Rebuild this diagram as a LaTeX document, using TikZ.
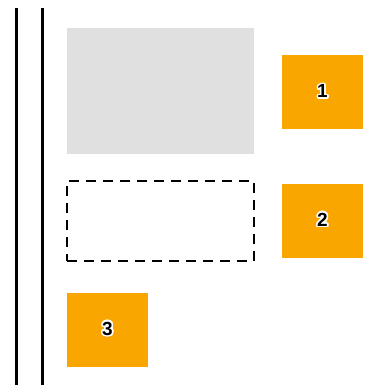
\documentclass[tikz,border=0pt]{standalone}
\usepackage{fontspec}
\setmainfont{Liberation Sans}
\usepackage{contour}
\contourlength{1.5pt}
\contournumber{24}
\usetikzlibrary{positioning}
\definecolor{tabgold}{RGB}{250,166,0}
\definecolor{slotgray}{RGB}{224,224,224}

\begin{document}
\begin{tikzpicture}[x=1pt,y=-1pt,
  numbox/.style={fill=tabgold,minimum width=81pt,minimum height=74pt,inner sep=0pt,
    font=\fontsize{19}{22}\selectfont\bfseries},
  slot/.style={minimum width=187pt,inner sep=0pt,anchor=north west}]
\useasboundingbox (0,0) rectangle (370,385);
% rails
\coordinate (railAtop) at (16,8);
\coordinate (railAbot) at (16,385);
\coordinate (railBtop) at (42,8);
\coordinate (railBbot) at (42,385);
\draw[line width=3pt] (railAtop) -- (railAbot);
\draw[line width=3pt] (railBtop) -- (railBbot);
% slots
\node[slot,fill=slotgray,minimum height=126pt] (filled) at (67,28) {};
\node[slot,draw,dashed,line width=2.4pt,dash pattern=on 10pt off 7pt,minimum height=80pt] (empty) at (66,180) {};
% numbered boxes
\node[numbox] (one) at (322.5,92) {\contour{white}{1}};
\node[numbox] (two) at (322.5,220.5) {\contour{white}{2}};
\node[numbox] (three) at (107.5,329.5) {\contour{white}{3}};
\end{tikzpicture}
\end{document}
